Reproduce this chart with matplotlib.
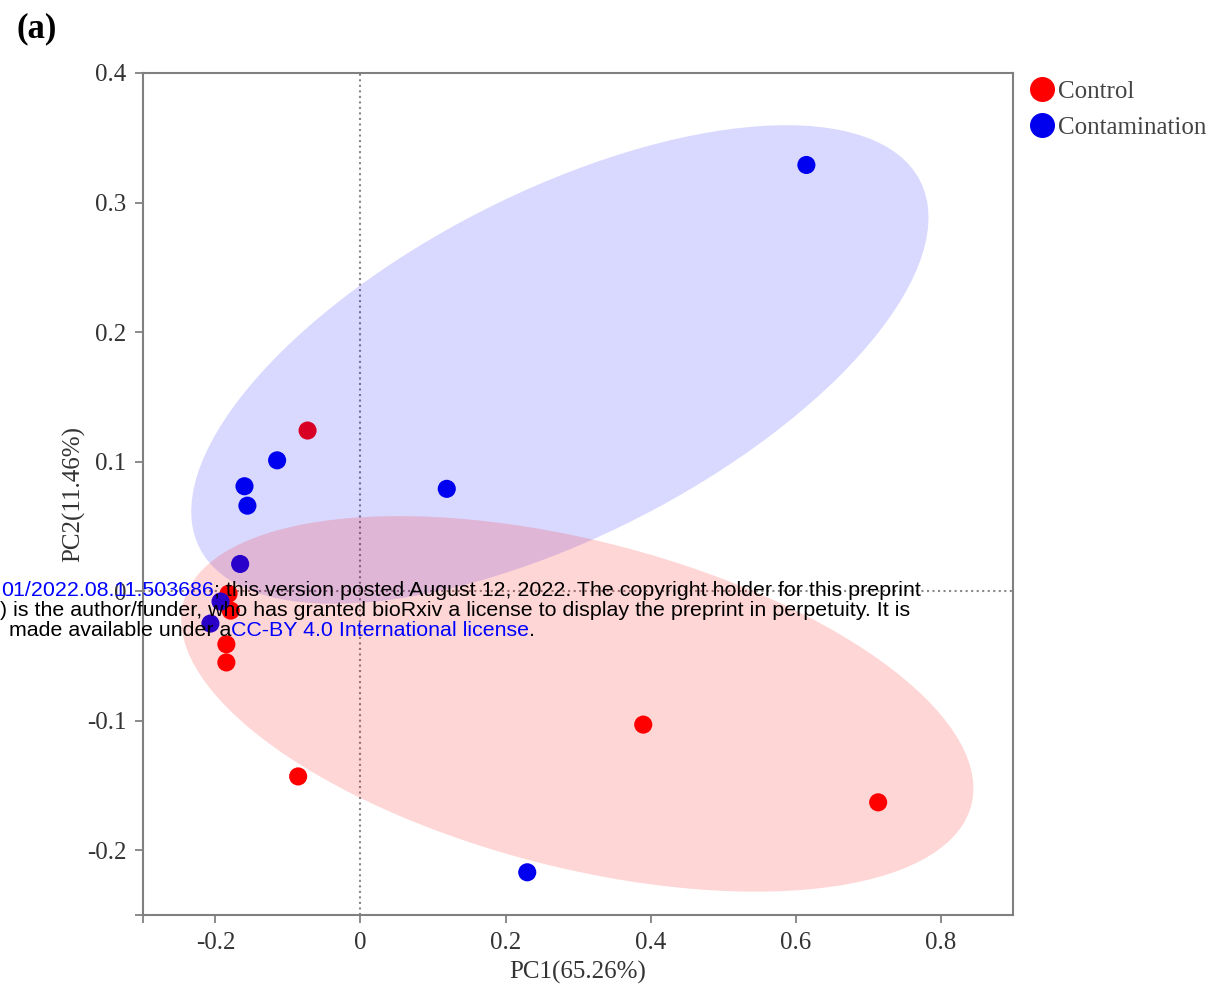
import matplotlib.pyplot as plt
from matplotlib.patches import Ellipse
from matplotlib.lines import Line2D

# PCA scores
control_pc1 = [-0.073, 0.390, 0.714, -0.086, -0.182, -0.179, -0.185, -0.185]
control_pc2 = [0.124, -0.103, -0.163, -0.143, -0.002, -0.015, -0.041, -0.055]
contam_pc1 = [0.615, -0.115, -0.160, -0.156, 0.119, -0.166, -0.193, -0.207, 0.230]
contam_pc2 = [0.329, 0.101, 0.081, 0.066, 0.079, 0.021, -0.008, -0.025, -0.217]

# group ellipses: center, width, height, angle (data units)
control_ell = [(0.299, -0.087), 1.101, 0.257, -7.2]
contam_ell = [(0.275, 0.175), 1.044, 0.284, 13.6]

xticks = [-0.2, 0, 0.2, 0.4, 0.6, 0.8]
yticks = [-0.2, -0.1, 0, 0.1, 0.2, 0.3, 0.4]

serif = ['Liberation Serif', 'DejaVu Serif']
fig = plt.figure(figsize=(12.18, 9.93), dpi=100)
ax = fig.add_axes([0.1174, 0.0785, 0.7143, 0.848])

ax.scatter(control_pc1, control_pc2, s=170, color='#ff0000', edgecolor='none', zorder=2)
ax.scatter(contam_pc1, contam_pc2, s=170, color='#0000ee', edgecolor='none', zorder=2)

for (c, w, h, a), col, al in [(contam_ell, 'blue', 0.15), (control_ell, 'red', 0.16)]:
    ax.add_patch(Ellipse(c, w, h, angle=a, facecolor=col, alpha=al,
                         edgecolor='none', zorder=3))

ax.axhline(0, color='#888888', ls=':', lw=1.5, zorder=1)
ax.axvline(0, color='#888888', ls=':', lw=1.5, zorder=1)

ax.set_xlim(-0.3, 0.9)
ax.set_ylim(-0.25, 0.4)
ax.set_xticks(xticks)
ax.set_yticks(yticks)
ax.set_xticklabels([f'{v:g}' for v in xticks], family=serif, fontsize=18, color='#333333')
ax.set_yticklabels([f'{v:g}' for v in yticks], family=serif, fontsize=18, color='#333333')
ax.set_xticks([-0.3], minor=True)
ax.set_yticks([-0.25], minor=True)
ax.tick_params(which='both', direction='out', length=6, width=1.2, color='#777777', pad=6)
for sp in ax.spines.values():
    sp.set_color('#808080')
    sp.set_linewidth(1.5)

ax.set_xlabel('PC1(65.26%)', family=serif, fontsize=18, color='#333333', labelpad=5)
ax.set_ylabel('PC2(11.46%)', family=serif, fontsize=18, color='#333333', labelpad=1)

handles = [Line2D([], [], ls='none', marker='o', markersize=17, color='#ff0000'),
           Line2D([], [], ls='none', marker='o', markersize=17, color='#0000ee')]
ax.legend(handles, ['Control', 'Contamination'], loc='upper left',
          bbox_to_anchor=(0.989, 1.018), frameon=False, handletextpad=0.0,
          handlelength=1.3, labelspacing=0.55,
          prop={'family': serif, 'size': 18}, labelcolor='#444444')

fig.text(17 / 1218, 1 - 12 / 993, '(a)', family=serif, fontsize=25, fontweight='bold', va='top')

# bioRxiv header overlay
sans = 'Liberation Sans'
fs = 15.4
t = fig.text(0.001, 1 - 596 / 993, '01/2022.08.11.503686', family=sans, fontsize=fs,
             color='#0000ff', va='baseline', zorder=10)
plt.annotate('; this version posted August 12, 2022. The copyright holder for this preprint',
             xy=(1, 0), xycoords=t, va='bottom', family=sans, fontsize=fs, color='black')
fig.text(0.0, 1 - 616 / 993,
         ') is the author/funder, who has granted bioRxiv a license to display the preprint in perpetuity. It is',
         family=sans, fontsize=fs, color='black', va='baseline')
t3 = fig.text(9 / 1218, 1 - 636 / 993, 'made available under a', family=sans, fontsize=fs,
              color='black', va='baseline')
t4 = plt.annotate('CC-BY 4.0 International license', xy=(1, 0), xycoords=t3, va='bottom',
                  family=sans, fontsize=fs, color='#0000ff')
plt.annotate('.', xy=(1, 0), xycoords=t4, va='bottom', family=sans, fontsize=fs, color='black')

fig.savefig('out.png', dpi=100)
